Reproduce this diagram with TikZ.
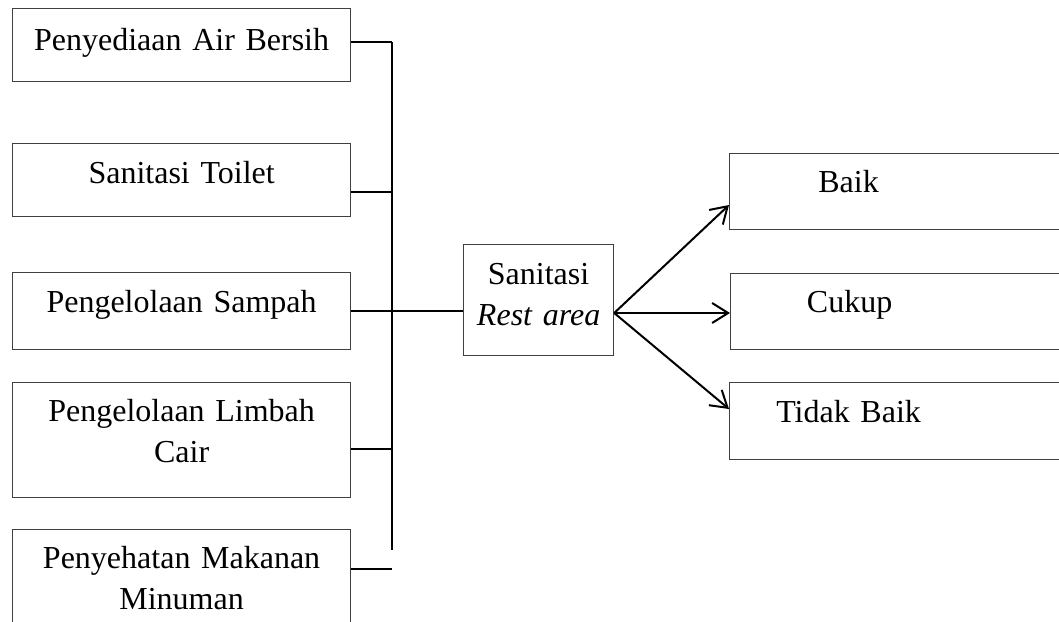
\documentclass[tikz,border=0pt]{standalone}
\usepackage{fontspec}
\setmainfont{Liberation Serif}
\usetikzlibrary{arrows.meta,calc}

\begin{document}
\begin{tikzpicture}[
  x=0.5pt, y=-0.5pt,
  font=\fontsize{16pt}{20.5pt}\selectfont,
  lbox/.style={draw=black!75, line width=0.6pt, anchor=north west, inner sep=0pt,
               text width=169pt, align=center},
  rbox/.style={draw=black!75, line width=0.6pt, anchor=north west, inner sep=0pt,
               text width=175.5pt, align=left, text height=19.5pt, text depth=18.5pt},
  line/.style={line width=1pt},
  arr/.style={-{Straight Barb[length=8pt,width=10pt]}, line width=1pt}
]
\useasboundingbox (0,0) rectangle (1059,621);

% aspek sanitasi
\node[lbox, text height=21pt, text depth=15.5pt] (air) at (12,8) {Penyediaan Air Bersih};
\node[lbox, text height=20pt, text depth=16.5pt] (toilet) at (12,143) {Sanitasi Toilet};
\node[lbox, text height=19.7pt, text depth=18.8pt] (sampah) at (12,272) {Pengelolaan Sampah};
\node[lbox, text height=19.3pt, text depth=38.2pt] (limbah) at (12,382) {Pengelolaan Limbah\\Cair};
\node[lbox, text height=19.5pt, text depth=60pt] (makan) at (12,529) {Penyehatan Makanan\\Minuman};

% variabel
\node[lbox, text width=75pt, text height=19.7pt, text depth=35.8pt] (san) at (463,244)
  {Sanitasi\\\textit{Rest area}};

% kategori
\node[rbox] (baik) at (729,153) {\makebox[119pt]{Baik}};
\node[rbox] (cukup) at (730,273) {\makebox[119pt]{Cukup}};
\node[rbox, text height=20pt] (tidak) at (729,382) {\makebox[119pt]{Tidak Baik}};

\coordinate (bustop) at (392,42);
\coordinate (busend) at (392,550);
\draw[line] (bustop) -- (busend);
\draw[line] ($(air.north east)+(0,34)$) -- (bustop);
\draw[line] ($(toilet.north east)+(0,49)$) coordinate (c2) -- (c2 -| bustop);
\draw[line] ($(sampah.north east)+(0,39)$) coordinate (c3) -- (c3 -| san.west);
\draw[line] ($(limbah.north east)+(0,67)$) coordinate (c4) -- (c4 -| bustop);
\draw[line] ($(makan.north east)+(0,40)$) coordinate (c5) -- (c5 -| bustop);

\coordinate (hub) at ($(san.north east)+(0,69)$);
\draw[arr] (hub) -- ($(baik.north west)+(0,52)$);
\draw[arr] (hub) -- (hub -| cukup.west);
\draw[arr] (hub) -- ($(tidak.north west)+(0,27)$);
\end{tikzpicture}
\end{document}
